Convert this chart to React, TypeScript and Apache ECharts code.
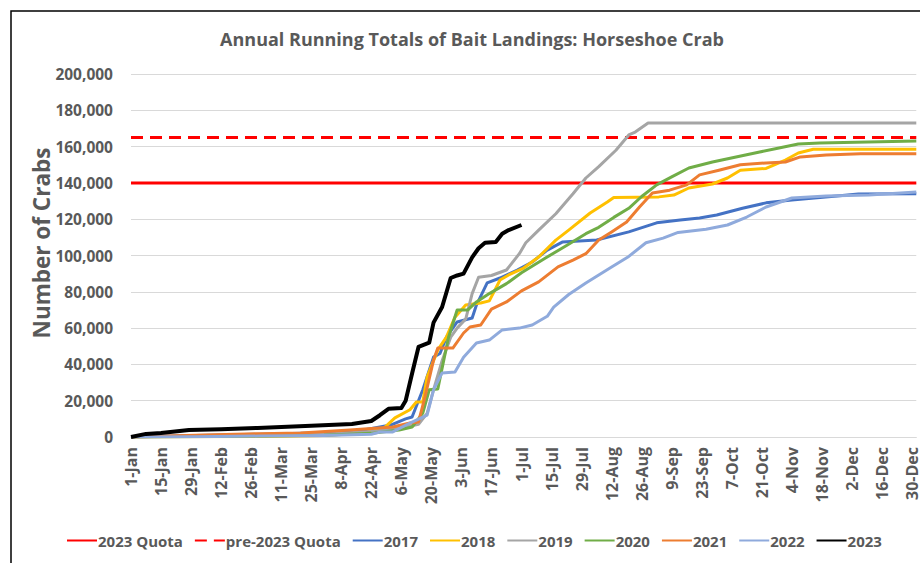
import React, { useEffect, useRef } from "react";
import * as echarts from "echarts";

const TITLE = "Annual Running Totals of Bait Landings: Horseshoe Crab";
const Y_NAME = "Number of Crabs";
const MONTHS = ["Jan", "Feb", "Mar", "Apr", "May", "Jun", "Jul", "Aug", "Sep", "Oct", "Nov", "Dec"];
const BASE_YEAR = 2020; // leap year calendar used for day-of-year labels
const X_MAX = 366;
const X_TICK_STEP = 14;

const QUOTA_2023 = 140000;
const QUOTA_PRE_2023 = 165000;

// [day of year, cumulative crabs]
const y2017: [number, number][] = [
  [0, 0], [30, 800], [60, 1500], [90, 2300], [106, 3300], [121, 6600], [128, 10000], [131, 11000],
  [136, 26000], [141, 44000], [144, 46000], [147, 55000], [152, 63400], [159, 65600], [161, 72700],
  [166, 84900], [172, 87600], [180, 92000], [187, 96400], [194, 103000], [201, 107400], [217, 108500],
  [232, 113000], [245, 118000], [256, 119600], [265, 120700], [273, 122300], [285, 126000], [296, 129000],
  [308, 130600], [329, 132800], [339, 133900], [366, 134000],
];
const y2018: [number, number][] = [
  [0, 0], [60, 300], [90, 800], [110, 2500], [118, 5000], [123, 10500], [130, 15000], [133, 19300],
  [136, 19300], [138, 33000], [143, 48000], [147, 55000], [151, 66000], [156, 72700], [163, 73800],
  [167, 75000], [172, 86500], [176, 89300], [183, 93100], [190, 99200], [198, 108500], [204, 114000],
  [214, 123400], [222, 129500], [225, 132000], [246, 132300], [253, 133300], [260, 137200], [271, 139400],
  [278, 142700], [284, 147000], [296, 148000], [305, 152600], [311, 156500], [318, 158500], [366, 158500],
];
const y2019: [number, number][] = [
  [0, 0], [30, 500], [60, 1000], [90, 1500], [112, 3000], [126, 5000], [134, 7000], [138, 13000],
  [141, 26000], [145, 42000], [149, 55000], [152, 60000], [156, 65000], [159, 79000], [162, 88000],
  [168, 89000], [175, 92000], [181, 101000], [184, 107000], [190, 114000], [198, 123000], [206, 134000],
  [212, 142700], [218, 149000], [226, 158000], [232, 166400], [235, 168000], [241, 173000], [366, 173000],
];
const y2020: [number, number][] = [
  [0, 0], [30, 300], [60, 600], [90, 1000], [112, 2000], [125, 3900], [131, 5500], [136, 13200],
  [139, 26000], [143, 26500], [148, 55000], [152, 70000], [157, 70000], [161, 74400], [167, 79000],
  [175, 84500], [182, 90500], [193, 98500], [203, 105500], [212, 112000], [218, 115500], [225, 121000],
  [232, 126000], [238, 132500], [245, 138900], [252, 143300], [260, 148200], [271, 151500], [282, 154300],
  [293, 157000], [302, 159200], [311, 161400], [321, 162000], [366, 163100],
];
const y2021: [number, number][] = [
  [0, 0], [30, 1000], [60, 1800], [79, 2200], [102, 3900], [122, 5500], [130, 7700], [134, 8300],
  [137, 22000], [141, 42400], [143, 49000], [150, 49000], [155, 57300], [158, 60600], [163, 61700],
  [168, 70500], [175, 74400], [182, 80500], [190, 85500], [199, 93700], [206, 97500], [212, 101000],
  [218, 108500], [224, 113000], [231, 118500], [237, 126700], [243, 134400], [251, 136000], [259, 138900],
  [265, 144400], [274, 147000], [284, 150000], [296, 151000], [305, 151500], [312, 154300], [324, 155400],
  [340, 156000], [366, 156000],
];
const y2022: [number, number][] = [
  [0, 0], [30, 200], [60, 500], [90, 800], [112, 1500], [116, 2700], [122, 2800], [130, 7700],
  [138, 12100], [141, 26000], [145, 35300], [151, 35800], [155, 44000], [161, 51800], [167, 53400],
  [173, 59000], [181, 60000], [187, 61700], [194, 66500], [197, 71600], [204, 78500], [212, 84900],
  [218, 89300], [224, 93700], [232, 99500], [240, 107000], [248, 109600], [255, 112700], [268, 114500],
  [278, 116800], [287, 121200], [296, 126700], [308, 131700], [324, 132800], [344, 133300], [366, 135000],
];
const y2023: [number, number][] = [
  [0, 0], [7, 1700], [14, 2200], [27, 3800], [42, 4300], [59, 5000], [84, 6200], [103, 7200],
  [112, 8800], [116, 12000], [120, 15500], [126, 16000], [128, 20000], [131, 35000], [134, 49600],
  [139, 52000], [141, 63000], [145, 71600], [149, 87600], [152, 89000], [155, 90000], [159, 99000],
  [162, 104000], [165, 107000], [170, 107500], [173, 112000], [176, 114000], [182, 116800],
];

const YEAR_SERIES: { name: string; data: [number, number][]; color: string; width: number }[] = [
  { name: "2017", data: y2017, color: "#4472C4", width: 3 },
  { name: "2018", data: y2018, color: "#FFC000", width: 3 },
  { name: "2019", data: y2019, color: "#A5A5A5", width: 3 },
  { name: "2020", data: y2020, color: "#70AD47", width: 3 },
  { name: "2021", data: y2021, color: "#ED7D31", width: 3 },
  { name: "2022", data: y2022, color: "#8FAADC", width: 3 },
  { name: "2023", data: y2023, color: "#000000", width: 4 },
];

const FONT = "'Open Sans', 'Noto Sans', sans-serif";
const GREY = "#595959";

function dayLabel(d: number): string {
  const dt = new Date(BASE_YEAR, 0, 1 + d);
  return `${dt.getDate()}-${MONTHS[dt.getMonth()]}`;
}

export default function App() {
  const ref = useRef<HTMLDivElement>(null);
  useEffect(() => {
    if (!ref.current) return;
    const chart = echarts.init(ref.current, undefined, { renderer: "svg" });
    const series: any[] = [
      {
        name: "2023 Quota",
        type: "line",
        data: [[0, QUOTA_2023], [X_MAX, QUOTA_2023]],
        symbol: "none",
        lineStyle: { color: "#FF0000", width: 3 },
        itemStyle: { color: "#FF0000" },
        silent: true,
      },
      {
        name: "pre-2023 Quota",
        type: "line",
        data: [[0, QUOTA_PRE_2023], [X_MAX, QUOTA_PRE_2023]],
        symbol: "none",
        lineStyle: { color: "#FF0000", width: 3, type: [12, 7] },
        itemStyle: { color: "#FF0000" },
        silent: true,
      },
      ...YEAR_SERIES.map((s) => ({
        name: s.name,
        type: "line",
        data: s.data,
        symbol: "none",
        lineStyle: { color: s.color, width: s.width, join: "round" },
        itemStyle: { color: s.color },
        silent: true,
      })),
    ];
    chart.setOption({
      animation: false,
      backgroundColor: "#ffffff",
      textStyle: { fontFamily: FONT },
      title: {
        text: TITLE,
        left: 467,
        textAlign: "center",
        top: 25,
        textStyle: { fontFamily: FONT, fontSize: 18, fontWeight: "bold", color: GREY },
      },
      grid: { left: 131, right: 3, top: 74, bottom: 126, containLabel: false },
      xAxis: {
        type: "value",
        min: 0,
        max: X_MAX,
        interval: X_TICK_STEP,
        axisLine: { show: true, lineStyle: { color: "#D9D9D9", width: 1 } },
        axisTick: { show: false },
        splitLine: { show: false },
        axisLabel: {
          rotate: 90,
          margin: 10,
          showMaxLabel: false,
          formatter: (v: number) => dayLabel(v),
          fontFamily: FONT,
          fontSize: 16,
          fontWeight: "bold",
          color: GREY,
        },
      },
      yAxis: {
        type: "value",
        min: 0,
        max: 200000,
        interval: 20000,
        axisLine: { show: false },
        axisTick: { show: false },
        splitLine: { lineStyle: { color: "#D9D9D9", width: 1 } },
        axisLabel: {
          margin: 18,
          formatter: (v: number) => v.toLocaleString("en-US"),
          fontFamily: FONT,
          fontSize: 15.5,
          fontWeight: "bold",
          color: GREY,
        },
      },
      legend: {
        bottom: 10,
        left: 61,
        itemWidth: 30,
        itemHeight: 3,
        itemGap: 11,
        itemStyle: { opacity: 0, color: "transparent", borderWidth: 0 },
        textStyle: { fontFamily: FONT, fontSize: 15, fontWeight: "bold", color: GREY, padding: [0, 0, 0, -4] },
        data: ["2023 Quota", "pre-2023 Quota", ...YEAR_SERIES.map((s) => s.name)],
      },
      graphic: [
        {
          type: "text",
          x: 41,
          y: 243,
          rotation: Math.PI / 2,
          style: {
            text: Y_NAME,
            fontFamily: FONT,
            fontSize: 22.5,
            fontWeight: "bold",
            fill: GREY,
            textAlign: "center",
            textVerticalAlign: "middle",
          },
          silent: true,
        },
        {
          type: "rect",
          shape: { x: 11, y: 11, width: 1000, height: 700 },
          style: { fill: "none", stroke: "#000000", lineWidth: 1.5 },
          silent: true,
          z: 100,
        },
      ],
      series,
    });
    return () => chart.dispose();
  }, []);
  return (
    <div
      ref={ref}
      style={{ position: "fixed", left: 0, top: 0, width: 920, height: 563 }}
    />
  );
}
